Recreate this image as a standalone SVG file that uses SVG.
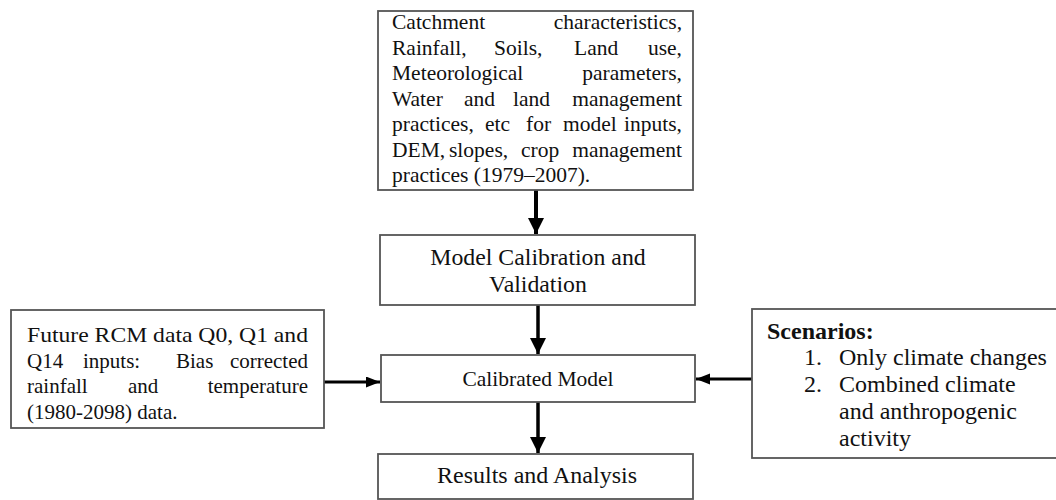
<svg xmlns="http://www.w3.org/2000/svg" width="1056" height="500" viewBox="0 0 1056 500">
<defs>
<style>
.box{fill:#fff;stroke:#555;stroke-width:1.8}
.t{font-family:"Liberation Serif","Times New Roman",serif;fill:#111}
.s21{font-size:21.5px}
.sl{font-size:21px}
.s23{font-size:23.8px}
.s24{font-size:24px}
.c{text-anchor:middle}
.e{text-anchor:end}
.b{font-weight:bold}
.conn{stroke:#000;fill:none}
</style>
<marker id="ahV" markerUnits="userSpaceOnUse" markerWidth="16" markerHeight="18" refX="16" refY="8" orient="auto">
<path d="M0,0 L16,8 L0,16 Z" fill="#000"/>
</marker>
<marker id="ahH" markerUnits="userSpaceOnUse" markerWidth="14" markerHeight="12" refX="14" refY="5.5" orient="auto">
<path d="M0,0 L14,5.5 L0,11 Z" fill="#000"/>
</marker>
</defs>
<g id="connectors">
<line class="conn" x1="536" y1="190" x2="536" y2="234" stroke-width="4" marker-end="url(#ahV)"/>
<line class="conn" x1="538" y1="305" x2="538" y2="354" stroke-width="3.5" marker-end="url(#ahV)"/>
<line class="conn" x1="538" y1="402" x2="538" y2="453" stroke-width="3.5" marker-end="url(#ahV)"/>
<line class="conn" x1="324" y1="382" x2="380" y2="382" stroke-width="3" marker-end="url(#ahH)"/>
<line class="conn" x1="752" y1="379" x2="696" y2="379" stroke-width="3" marker-end="url(#ahH)"/>
</g>
<g id="inputs">
<rect class="box" x="378" y="11" width="315" height="179"/>
<text class="t s21" x="392" y="29">Catchment</text>
<text class="t s21 e" x="682" y="29">characteristics,</text>
<text class="t s21" y="54.5"><tspan x="392">Rainfall,</tspan><tspan x="494">Soils,</tspan><tspan x="574">Land</tspan><tspan x="682" text-anchor="end">use,</tspan></text>
<text class="t s21" x="392" y="80">Meteorological</text>
<text class="t s21 e" x="682" y="80">parameters,</text>
<text class="t s21" y="105.5"><tspan x="392">Water</tspan><tspan x="464">and</tspan><tspan x="513">land</tspan><tspan x="682" text-anchor="end">management</tspan></text>
<text class="t s21" y="131"><tspan x="392">practices,</tspan><tspan x="485">etc</tspan><tspan x="526">for</tspan><tspan x="563">model</tspan><tspan x="682" text-anchor="end">inputs,</tspan></text>
<text class="t s21" y="156.5"><tspan x="392">DEM,</tspan><tspan x="449">slopes,</tspan><tspan x="521">crop</tspan><tspan x="682" text-anchor="end">management</tspan></text>
<text class="t s21" x="392" y="182">practices (1979–2007).</text>
</g>
<g id="calibration">
<rect class="box" x="380" y="235" width="315" height="70"/>
<text class="t s23 c" x="538" y="265">Model Calibration and</text>
<text class="t s23 c" x="538" y="292">Validation</text>
</g>
<g id="calibrated">
<rect class="box" x="381" y="355" width="314" height="47"/>
<text class="t c" x="538" y="386" font-size="21.5">Calibrated Model</text>
</g>
<g id="results">
<rect class="box" x="378" y="454" width="315" height="45"/>
<text class="t s24 c" x="537" y="483">Results and Analysis</text>
</g>
<g id="future">
<rect class="box" x="11" y="310" width="313" height="118"/>
<text class="t sl" x="27" y="342" textLength="281" lengthAdjust="spacingAndGlyphs">Future RCM data Q0, Q1 and</text>
<text class="t sl" y="367.5"><tspan x="27">Q14</tspan><tspan x="83">inputs:</tspan><tspan x="176">Bias</tspan><tspan x="308" text-anchor="end">corrected</tspan></text>
<text class="t sl" y="393"><tspan x="27">rainfall</tspan><tspan x="128">and</tspan><tspan x="308" text-anchor="end">temperature</tspan></text>
<text class="t sl" x="27" y="418.5">(1980-2098) data.</text>
</g>
<g id="scenarios">
<rect class="box" x="752" y="309" width="310" height="149"/>
<text class="t s24 b" x="767" y="339">Scenarios:</text>
<text class="t s24" x="804" y="365">1.</text>
<text class="t s24" x="839" y="365">Only climate changes</text>
<text class="t s24" x="804" y="392">2.</text>
<text class="t s24" x="839" y="392">Combined climate</text>
<text class="t s24" x="839" y="419">and anthropogenic</text>
<text class="t s24" x="839" y="446">activity</text>
</g>
</svg>
